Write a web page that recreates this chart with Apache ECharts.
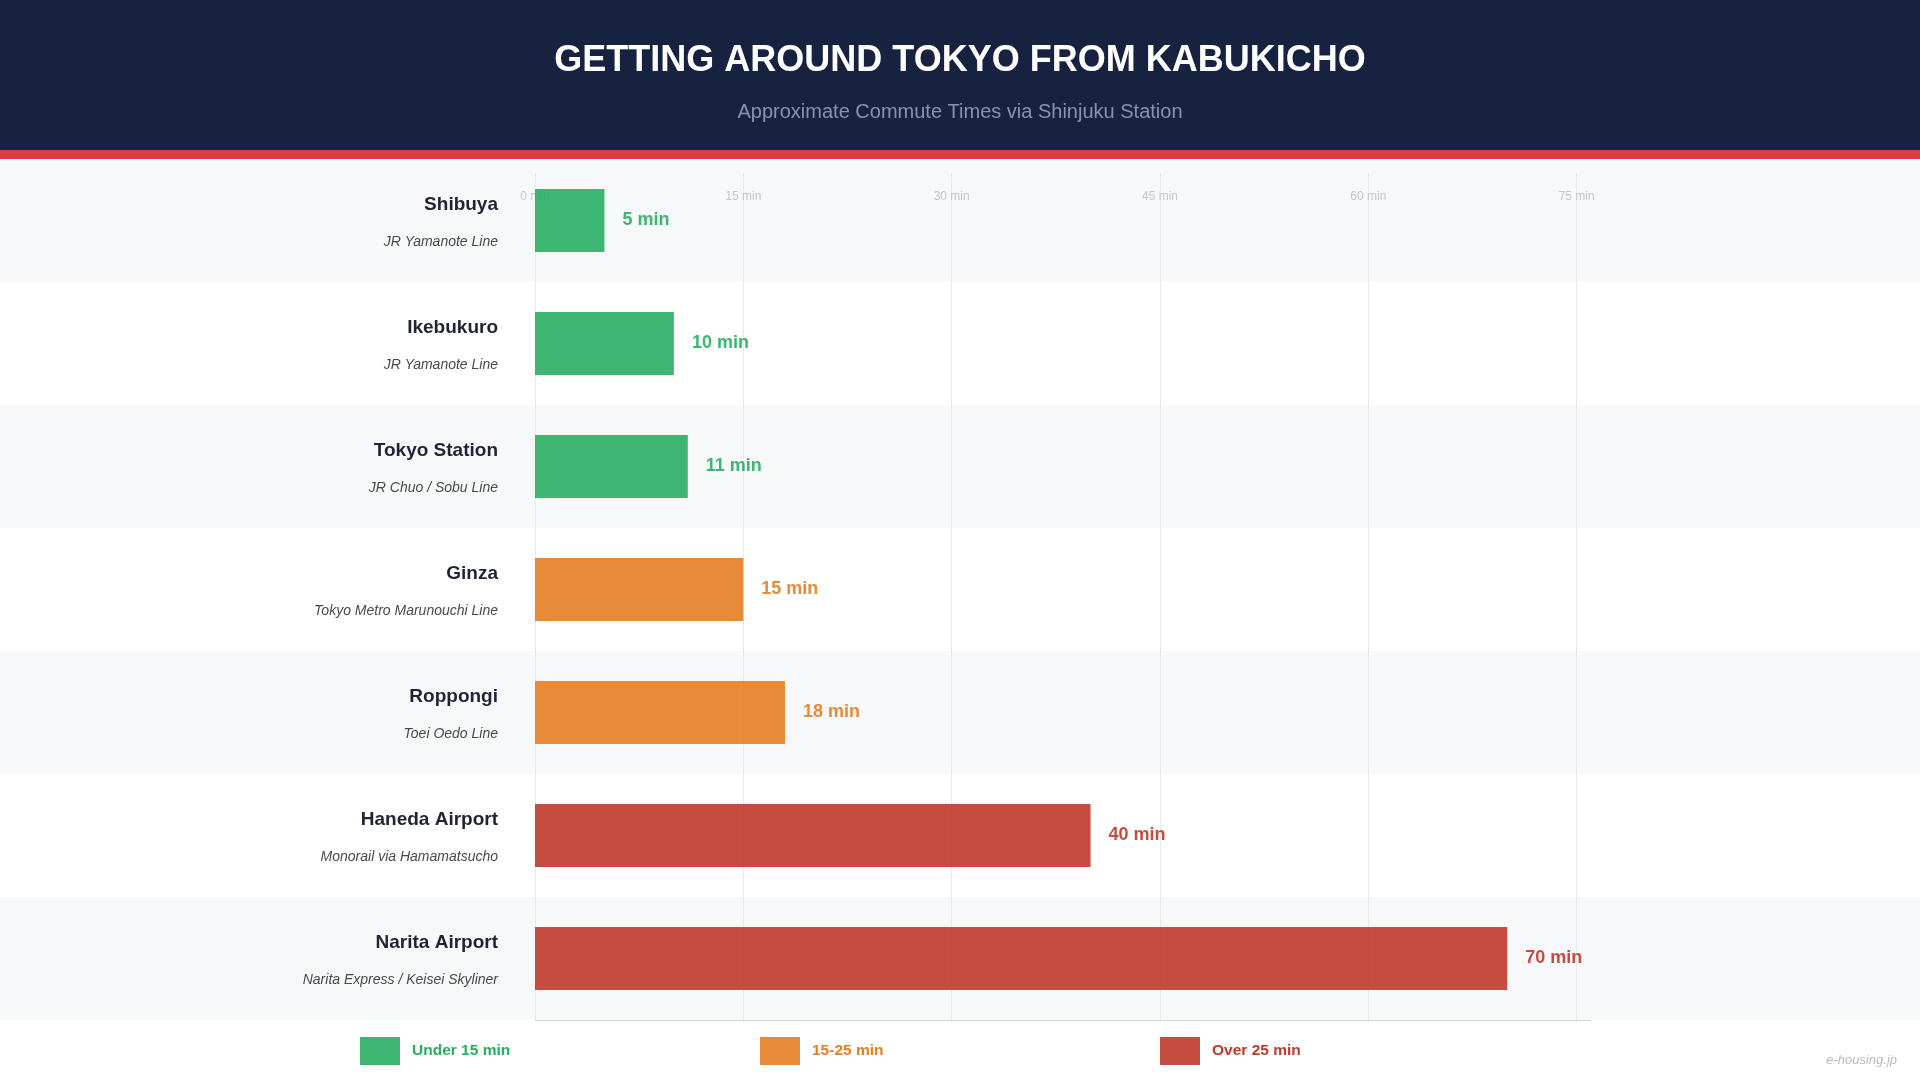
<!DOCTYPE html>
<html>
<head>
<meta charset="utf-8">
<script src="https://cdn.jsdelivr.net/npm/echarts@6/dist/echarts.min.js"></script>
<style>
html,body{margin:0;padding:0;background:#ffffff;}
#chart{width:1920px;height:1080px;}
</style>
</head>
<body>
<div id="chart"></div>
<script>
// ---- data ----
const destinations = ['Shibuya', 'Ikebukuro', 'Tokyo Station', 'Ginza', 'Roppongi', 'Haneda Airport', 'Narita Airport'];
const routes = ['JR Yamanote Line', 'JR Yamanote Line', 'JR Chuo / Sobu Line', 'Tokyo Metro Marunouchi Line', 'Toei Oedo Line', 'Monorail via Hamamatsucho', 'Narita Express / Keisei Skyliner'];
const minutes = [5, 10, 11, 15, 18, 40, 70];
const groupNames = ['Under 15 min', '15-25 min', 'Over 25 min'];
const groupColors = ['#27ae60', '#e67e22', '#c0392b'];
const tickStep = 15;
const axisMax = 75;

function groupOf(v) { return v < 15 ? 0 : (v <= 25 ? 1 : 2); }

const FONT = "'Liberation Sans', Arial, Helvetica, sans-serif";
const chart = echarts.init(document.getElementById('chart'), null, { renderer: 'canvas' });

const plotLeft = 535;
const pxPerMin = 1041.67 / axisMax;

const series = groupNames.map((name, g) => ({
  name: name,
  type: 'bar',
  xAxisIndex: 2,
  yAxisIndex: 2,
  barWidth: 63,
  barGap: '-100%',
  z: 5,
  itemStyle: { color: groupColors[g], opacity: 0.9 },
  label: {
    show: true,
    position: 'right',
    distance: 18,
    formatter: '{c} min',
    color: groupColors[g],
    fontSize: 18,
    fontWeight: 'bold',
    fontFamily: FONT
  },
  data: minutes.map(v => groupOf(v) === g ? v : '-')
}));

const legends = groupNames.map((name, g) => ({
  data: [name],
  left: 360 + g * 400,
  top: 1037,
  padding: 0,
  itemWidth: 40,
  itemHeight: 28,
  icon: 'rect',
  selectedMode: false,
  textStyle: { color: groupColors[g], fontSize: 15.5, fontWeight: 'bold', fontFamily: FONT, padding: [0, 0, 0, 7] }
}));

const option = {
  animation: false,
  backgroundColor: '#ffffff',
  textStyle: { fontFamily: FONT },
  graphic: [
    { type: 'rect', left: 0, top: 0, shape: { width: 1920, height: 150 }, style: { fill: '#172140' }, z: -10 },
    { type: 'rect', left: 0, top: 150, shape: { width: 1920, height: 9 }, style: { fill: '#e53945' }, z: -10 },
    { type: 'text', right: 23, top: 1054, style: { text: 'e-housing.jp', fill: '#bbbbbb', font: "italic 13px 'Liberation Sans', Arial, sans-serif" } }
  ],
  title: [
    { text: 'GETTING AROUND TOKYO FROM KABUKICHO', left: 'center', top: 38, textStyle: { color: '#ffffff', fontSize: 36, fontWeight: 'bold', fontFamily: FONT } },
    { text: 'Approximate Commute Times via Shinjuku Station', left: 'center', top: 97, textStyle: { color: '#8a94a8', fontSize: 20, fontWeight: 'normal', fontFamily: FONT } }
  ],
  legend: legends,
  grid: [
    { left: 0, right: 0, top: 159, height: 861 },
    { left: plotLeft, top: 173, height: 847, width: axisMax * pxPerMin },
    { left: plotLeft, top: 159, height: 861, width: 76 * pxPerMin }
  ],
  xAxis: [
    { gridIndex: 0, type: 'value', min: 0, max: 1, show: false },
    {
      gridIndex: 1, type: 'value', min: 0, max: axisMax, interval: tickStep, position: 'top', offset: -38, z: 1,
      axisLine: { show: false }, axisTick: { show: false },
      axisLabel: { formatter: '{value} min', color: '#c4c7cc', fontSize: 12, fontFamily: FONT },
      splitLine: { show: true, lineStyle: { color: '#e6e8eb', width: 1 } }
    },
    {
      gridIndex: 2, type: 'value', min: 0, max: 76, position: 'bottom', z: 2,
      axisLine: { show: true, lineStyle: { color: '#d6d9de', width: 1 } },
      axisTick: { show: false }, axisLabel: { show: false }, splitLine: { show: false }
    }
  ],
  yAxis: [
    {
      gridIndex: 0, type: 'category', data: destinations, inverse: true, z: 0,
      axisLine: { show: false }, axisTick: { show: false }, axisLabel: { show: false },
      splitArea: { show: true, areaStyle: { color: ['#f7f8fa', '#ffffff'] } }
    },
    { gridIndex: 1, type: 'value', min: 0, max: 1, show: false },
    {
      gridIndex: 2, type: 'category', data: destinations, inverse: true, z: 2,
      axisLine: { show: false }, axisTick: { show: false }, splitLine: { show: false },
      axisLabel: {
        margin: 37,
        align: 'right',
        padding: [6, 0, 0, 0],
        formatter: (value, idx) => '{name|' + value + '}\n{line|' + routes[idx] + '}',
        rich: {
          name: { fontSize: 19, fontWeight: 'bold', color: '#1e2433', lineHeight: 38, fontFamily: FONT, align: 'right' },
          line: { fontSize: 14, fontStyle: 'italic', color: '#4a4a4a', lineHeight: 38, fontFamily: FONT, align: 'right' }
        }
      }
    }
  ],
  series: series
};

chart.setOption(option);
</script>
</body>
</html>
